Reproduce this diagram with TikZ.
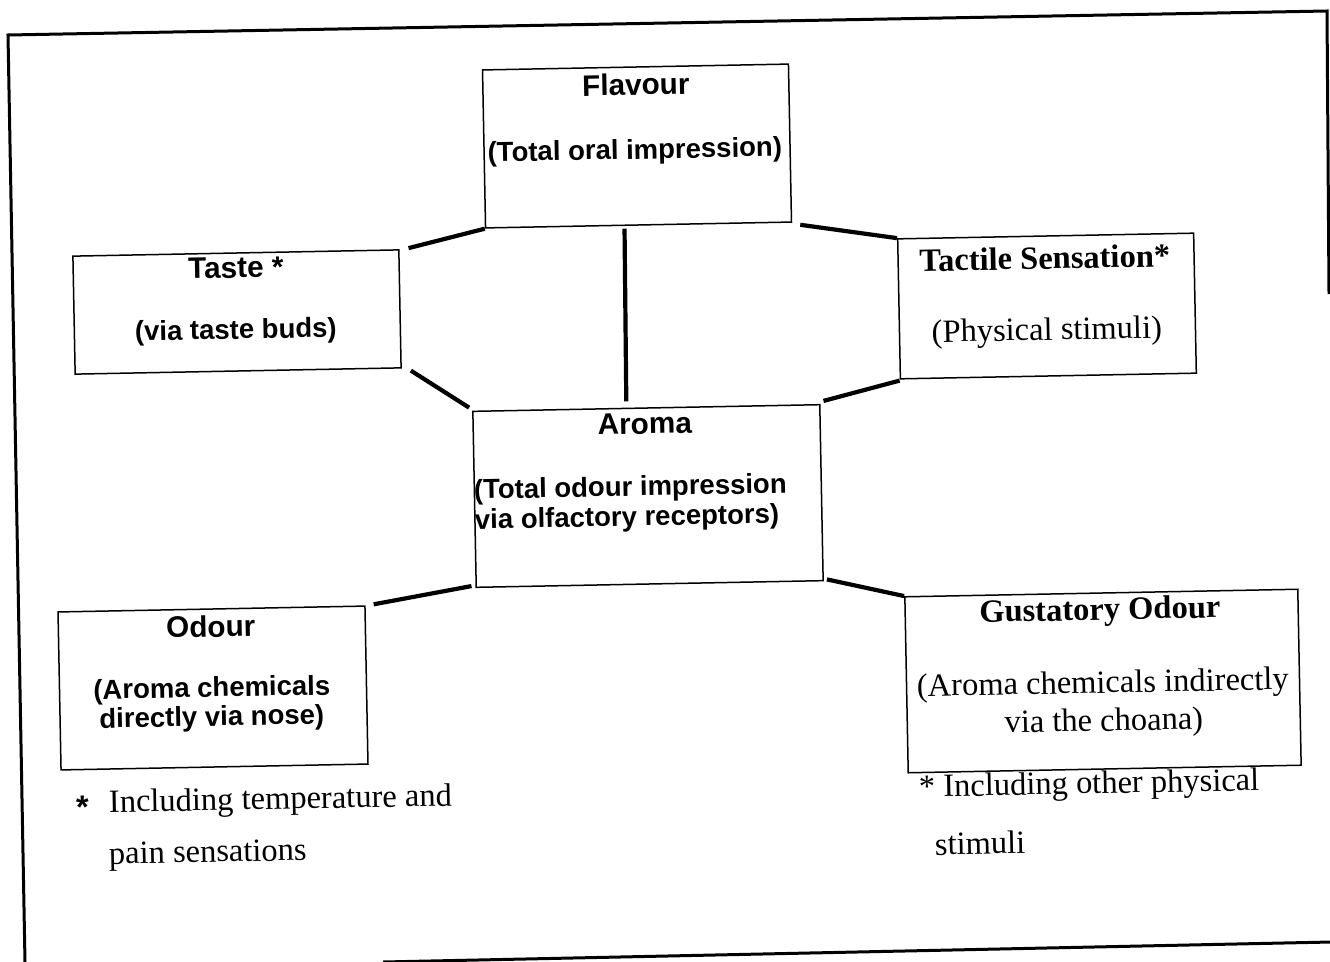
\documentclass[tikz,border=0pt]{standalone}
\usepackage{fontspec}
\setmainfont{Liberation Serif}
\setsansfont{Liberation Sans}
\usetikzlibrary{calc}

\begin{document}
\begin{tikzpicture}[x=1pt,y=-1pt,
  box/.style n args={2}{draw, line width=1.5pt, rotate=1.1, inner sep=0pt,
    minimum width=#1pt, minimum height=#2pt},
  conn/.style={line width=4.2pt},
  frame/.style={line width=3pt, line join=miter},
  lbl/.style={inner sep=0pt, rotate=1.1, anchor=base},
  sanshead/.style={lbl, font=\sffamily\bfseries\fontsize{29.7}{33}\selectfont},
  sanstxt/.style={lbl, font=\sffamily\bfseries\fontsize{27.5}{30}\selectfont},
  seriftxt/.style={lbl, font=\rmfamily\fontsize{32.5}{36}\selectfont},
  serifbold/.style={lbl, font=\rmfamily\bfseries\fontsize{32.5}{36}\selectfont},
]
\useasboundingbox (0,0) rectangle (1330,961);
\fill[white] (0,0) rectangle (1330,961);

% outer frame
\draw[frame] (25,962) -- (8,35) -- (1327,11) -- (1329,294);
\draw[frame] (383,962) -- (1331,942);

% boxes
\node[box={306}{158}] (flav)  at (637,146) {};
\node[box={326}{118}] (taste) at (237,312) {};
\node[box={296}{140}] (tact)  at (1047,306) {};
\node[box={347}{176}] (aroma) at (648,496) {};
\node[box={307}{158}] (odour) at (213,688) {};
\node[box={393}{176}] (gust)  at (1103,681) {};

% box texts
\node[sanshead] (flavA) at (636,95) {Flavour};
\node[sanstxt] (flavB) at (635,159) {(Total oral impression)};
\node[sanshead] (tasteA) at (236,278) {Taste *};
\node[sanstxt] (tasteB) at (236,339) {(via taste buds)};
\node[serifbold] (tactA) at (1045,269) {Tactile Sensation*};
\node[seriftxt] (tactB) at (1047,340) {(Physical stimuli)};
\node[sanshead] (aromaA) at (645,434) {Aroma};
\node[sanstxt, anchor=base west] (aromaB) at (474,499) {(Total odour impression};
\node[sanstxt, anchor=base west] (aromaC) at (475,529) {via olfactory receptors)};
\node[sanshead] (odourA) at (211,637) {Odour};
\node[sanstxt] (odourB) at (212,697) {(Aroma chemicals};
\node[sanstxt] (odourC) at (212,726) {directly via nose)};
\node[serifbold] (gustA) at (1100,620) {Gustatory Odour};
\node[seriftxt] (gustB) at (1103,693) {(Aroma chemicals indirectly};
\node[seriftxt] (gustC) at (1104,731) {via the choana)};

% footnotes
\node[seriftxt, anchor=base west] (noteA) at (76,813)
  {\makebox[33pt][l]{\sffamily\bfseries\raisebox{-5pt}{*}}Including temperature and};
\node[seriftxt, anchor=base west] (noteB) at (109,864) {pain sensations};
\node[seriftxt, anchor=base west] (noteC) at (919,797) {* Including other physical};
\node[seriftxt, anchor=base west] (noteD) at (935,855) {stimuli};

% connectors
\draw[conn] ($(taste.north east)+(9,-1)$) -- (flav.south west);
\draw[conn] ($(flav.south east)+(8,2)$) -- (tact.north west);
\draw[conn] ($(flav.south)+(-14,3)$) -- ($(aroma.north)+(-20,-6)$);
\draw[conn] ($(taste.south east)+(9,2)$) -- ($(aroma.north west)+(-3,-3)$);
\draw[conn] ($(tact.south west)+(0,1)$) -- ($(aroma.north east)+(3,-3)$);
\draw[conn] ($(odour.north east)+(8,-1)$) -- ($(aroma.south west)+(-4,-2)$);
\draw[conn] ($(aroma.south east)+(3,-2)$) -- (gust.north west);
\end{tikzpicture}
\end{document}
